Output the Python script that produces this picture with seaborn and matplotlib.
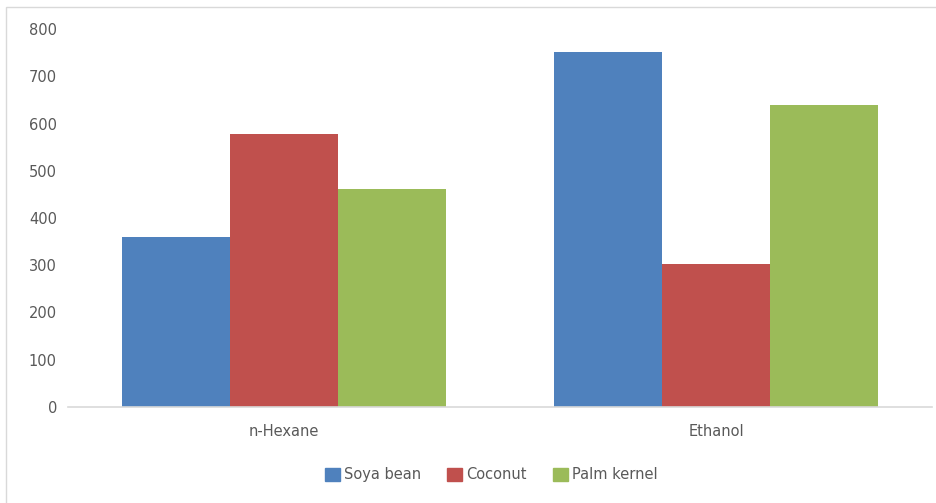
import matplotlib
matplotlib.use("Agg")
import matplotlib.pyplot as plt
import matplotlib.patches as mpatches
import seaborn as sns
import pandas as pd

# values
solvents = ["n-Hexane", "Ethanol"]
oils = ["Soya bean", "Coconut", "Palm kernel"]
soya_bean = [360, 752]
coconut = [579, 303]
palm_kernel = [461, 640]
colors = ["#4F81BD", "#C0504D", "#9BBB59"]

df = pd.DataFrame({
    "solvent": solvents * 3,
    "oil": [oils[0]] * 2 + [oils[1]] * 2 + [oils[2]] * 2,
    "value": soya_bean + coconut + palm_kernel,
})

sns.set_style("white")
plt.rcParams["font.family"] = ["DejaVu Sans"]

fig = plt.figure(figsize=(9.36, 5.03), dpi=100)
ax = fig.add_axes([68 / 936, 0.191, 864 / 936, 0.751])
sns.barplot(data=df, x="solvent", y="value", hue="oil", order=solvents,
            hue_order=oils, palette=colors, width=0.75, gap=0,
            saturation=1, edgecolor="none", ax=ax)

ax.set_xlim(-0.5, 1.5)
ax.set_ylim(0, 800)
ax.set_yticks(range(0, 801, 100))
ax.set_xlabel("")
ax.set_ylabel("")
for s in ["top", "right", "left"]:
    ax.spines[s].set_visible(False)
ax.spines["bottom"].set_color("#D9D9D9")
ax.spines["bottom"].set_linewidth(1.2)
ax.tick_params(axis="both", length=0, colors="#595959", labelsize=10.5)
ax.tick_params(axis="y", pad=8)
ax.tick_params(axis="x", pad=12)

handles = [mpatches.Patch(color=c, label=o) for c, o in zip(colors, oils)]
ax.legend(handles=handles, loc="center", bbox_to_anchor=(0.49, -0.18),
          ncol=3, frameon=False, fontsize=10.5, handlelength=1.0,
          handleheight=1.0, handletextpad=0.3, columnspacing=1.8,
          labelcolor="#595959")

# light chart border
fig.patches.append(mpatches.Rectangle((6 / 936, -0.01), 1.0, 1 - 7 / 503 + 0.01,
                                      transform=fig.transFigure, fill=False,
                                      edgecolor="#D9D9D9", linewidth=1))

fig.savefig("out.png", dpi=100)
